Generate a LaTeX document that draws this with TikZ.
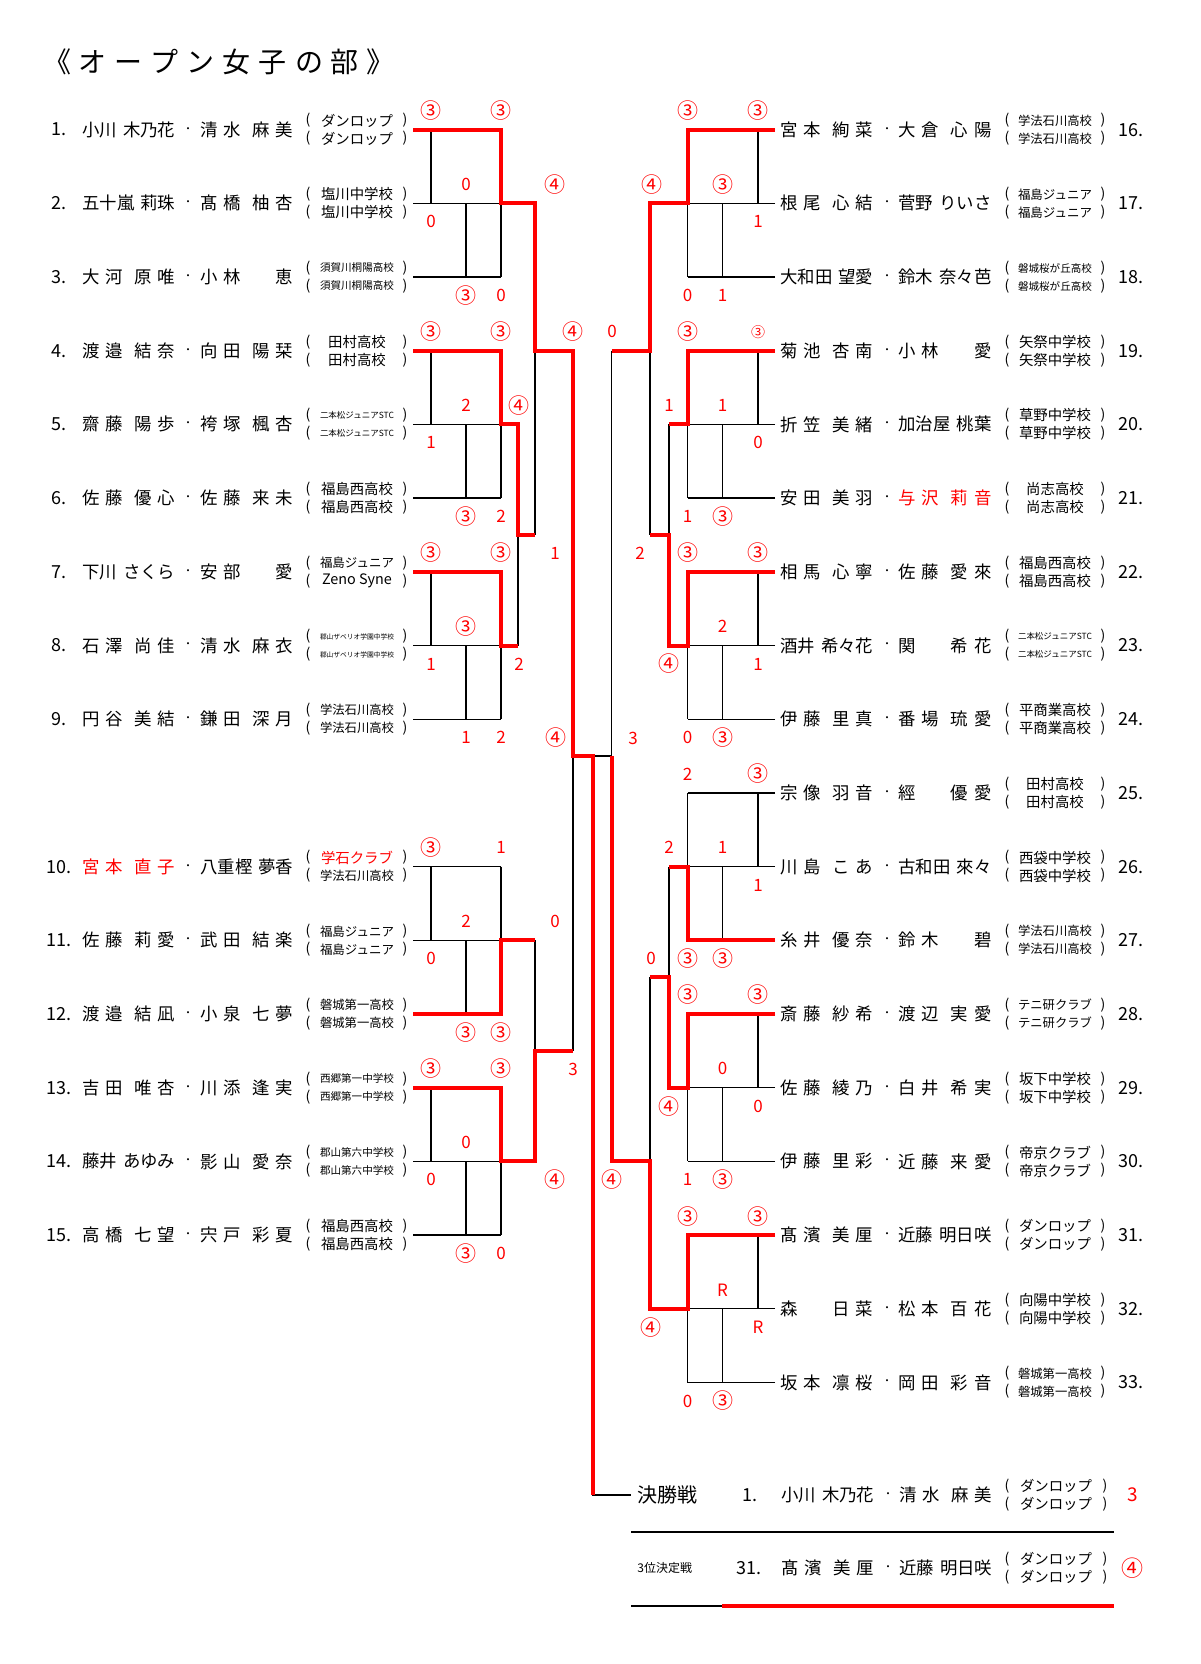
\documentclass[tikz,border=0pt]{standalone}
\usepackage{fontspec}
\usepackage{graphicx}
\setmainfont{Noto Sans CJK JP}
\definecolor{rd}{RGB}{255,0,0}
\newsavebox\afbox
\newcommand\fitw[1]{\sbox\afbox{#1}\ifdim\wd\afbox>37pt\resizebox{37pt}{!}{\usebox\afbox}\else\usebox\afbox\fi}
\newcommand\fld[1]{\makebox[46.5pt][s]{#1}}
\newcommand\four[4]{#1\hfill#2\hfill\hfill#3\hfill#4}
\newcommand\qq{\phantom{口}}
% rows
\def\yA{129.6}\def\yB{203.3}\def\yC{277.0}\def\yD{350.7}\def\yE{424.4}\def\yF{498.1}
\def\yG{571.8}\def\yH{645.5}\def\yI{719.2}\def\yJ{792.9}\def\yK{866.6}\def\yL{940.3}
\def\yM{1014.0}\def\yN{1087.7}\def\yO{1161.4}\def\yP{1235.1}\def\yQ{1308.8}\def\yR{1382.5}
% columns
\def\lxo{413}\def\lxa{431}\def\lxb{466}\def\lxc{501}\def\lxd{518}\def\lxe{535}\def\lxf{573}\def\lxg{593}
\def\rxo{775}\def\rxa{758}\def\rxb{722.5}\def\rxc{687.5}\def\rxd{669}\def\rxe{650}\def\rxg{611.5}
\tikzset{
  nm/.style={anchor=west,inner sep=0pt,font=\fontsize{8.7pt}{8.7pt}\selectfont},
  num/.style={anchor=west,inner sep=0pt,font=\fontsize{9pt}{9pt}\selectfont},
  dt/.style={inner sep=0pt,font=\fontsize{5pt}{5pt}\selectfont},
  af/.style={inner sep=0pt,font=\fontsize{7.2pt}{7.2pt}\selectfont},
  pr/.style={inner sep=0pt,font=\fontsize{7pt}{7pt}\selectfont},
  sc/.style={inner sep=0pt,text=rd,font=\fontsize{8.5pt}{8.5pt}\selectfont},
  cs/.style={inner sep=0pt,text=rd,font=\fontsize{10.5pt}{10.5pt}\selectfont},
  bl/.style={line width=0.65pt,black},
  rl/.style={line width=2pt,rd},
  ttl/.style={inner sep=0pt,font=\fontsize{14pt}{14pt}\selectfont},
}
\newcommand\lrow[8]{%
  \node[num] (ln#1) at (#3,#2) {#4};
  \node[nm] (la#1) at (82,#2) {\fld{#5}};
  \node[dt] (ld#1) at (188,#2) {・};
  \node[nm] (lb#1) at (200,#2) {\fld{#6}};
  \node[pr] (lp#1) at (308,{#2-9}) {(};
  \node[pr] (lq#1) at (308,{#2+9}) {(};
  \node[pr] (lr#1) at (405,{#2-9}) {)};
  \node[pr] (ls#1) at (405,{#2+9}) {)};
  \node[af] (lc#1) at (357,{#2-9}) {\fitw{#7}};
  \node[af] (le#1) at (357,{#2+9}) {\fitw{#8}};
}
\newcommand\rrow[7]{%
  \node[nm] (ra#1) at (780,#2) {\fld{#4}};
  \node[dt] (rd#1) at (887,#2) {・};
  \node[nm] (rb#1) at (898,#2) {\fld{#5}};
  \node[pr] (rp#1) at (1007,{#2-9}) {(};
  \node[pr] (rq#1) at (1007,{#2+9}) {(};
  \node[pr] (rr#1) at (1103,{#2-9}) {)};
  \node[pr] (rs#1) at (1103,{#2+9}) {)};
  \node[af] (rc#1) at (1055,{#2-9}) {\fitw{#6}};
  \node[af] (re#1) at (1055,{#2+9}) {\fitw{#7}};
  \node[num] (rn#1) at (1118,#2) {#3};
}
\newcommand\lgrp[3]{\draw[bl] (\lxo,#1)--(\lxc,#1) (\lxo,#2)--(\lxc,#2) (\lxo,#3)--(\lxc,#3)
  (\lxa,#1)--(\lxa,#2) (\lxb,#2)--(\lxb,#3) (\lxc,#1)--(\lxc,#3);}
\newcommand\rgrp[3]{\draw[bl] (\rxo,#1)--(\rxc,#1) (\rxo,#2)--(\rxc,#2) (\rxo,#3)--(\rxc,#3)
  (\rxa,#1)--(\rxa,#2) (\rxb,#2)--(\rxb,#3) (\rxc,#1)--(\rxc,#3);}
\newcommand\sco[3]{\node[sc] at (#1,#2) {#3};}
\newcommand\cir[3]{\node[cs] at (#1,#2) {#3};}
\begin{document}
\begin{tikzpicture}[x=0.5pt,y=-0.5pt]
\useasboundingbox (0,0) rectangle (1200,1664);
\fill[white] (0,0) rectangle (1200,1664);
\node[ttl] (title) at (219,62) {\makebox[176pt][s]{《\hfill オ\hfill ー\hfill プ\hfill ン\hfill 女\hfill 子\hfill の\hfill 部\hfill 》}};

% ---------- black bracket ----------
\lgrp{\yA}{\yB}{\yC}\lgrp{\yD}{\yE}{\yF}\lgrp{\yG}{\yH}{\yI}\lgrp{\yK}{\yL}{\yM}\lgrp{\yN}{\yO}{\yP}
\rgrp{\yA}{\yB}{\yC}\rgrp{\yD}{\yE}{\yF}\rgrp{\yG}{\yH}{\yI}\rgrp{\yJ}{\yK}{\yL}\rgrp{\yM}{\yN}{\yO}\rgrp{\yP}{\yQ}{\yR}
\draw[bl] (\lxc,\yB)--(\lxe,\yB) (\lxe,\yB)--(\lxe,535)
  (\lxc,\yE)--(\lxd,\yE) (\lxc,\yH)--(\lxd,\yH) (\lxd,\yE)--(\lxd,\yH) (\lxd,535)--(\lxe,535)
  (\lxe,\yD)--(\lxf,\yD) (\lxf,\yD)--(\lxf,1050.9)
  (\lxc,\yL)--(\lxe,\yL) (\lxc,\yO)--(\lxe,\yO) (\lxe,\yL)--(\lxe,\yO) (\lxe,1050.9)--(\lxf,1050.9)
  (\lxf,756)--(\rxg,756) (\rxg,\yD)--(\rxg,\yO) (\lxg,756)--(\lxg,1495)--(631,1495)
  (\rxc,\yB)--(\rxe,\yB) (\rxe,\yB)--(\rxe,535)
  (\rxc,\yE)--(\rxd,\yE) (\rxc,\yH)--(\rxd,\yH) (\rxd,\yE)--(\rxd,\yH) (\rxd,535)--(\rxe,535)
  (\rxe,\yD)--(\rxg,\yD)
  (\rxc,\yK)--(\rxd,\yK) (\rxc,\yN)--(\rxd,\yN) (\rxd,\yK)--(\rxd,\yN) (\rxd,977.2)--(\rxe,977.2)
  (\rxe,977.2)--(\rxe,\yQ) (\rxc,\yQ)--(\rxe,\yQ) (\rxe,\yO)--(\rxg,\yO)
  (631,1532)--(1114,1532) (631,1606)--(722,1606);

% ---------- red winner paths ----------
\draw[rl] (\lxo,\yA)--(\lxc,\yA)--(\lxc,\yB)--(\lxe,\yB)--(\lxe,\yD)--(\lxf,\yD)--(\lxf,756)--(\lxg,756)--(\lxg,1495);
\draw[rl] (\lxo,\yD)--(\lxc,\yD)--(\lxc,\yE)--(\lxd,\yE)--(\lxd,535)--(\lxe,535);
\draw[rl] (\lxo,\yG)--(\lxc,\yG)--(\lxc,\yH)--(\lxd,\yH);
\draw[rl] (\lxo,\yM)--(\lxc,\yM)--(\lxc,\yL)--(\lxe,\yL);
\draw[rl] (\lxo,\yN)--(\lxc,\yN)--(\lxc,\yO)--(\lxe,\yO)--(\lxe,1050.9)--(\lxf,1050.9);
\draw[rl] (\rxo,\yA)--(\rxc,\yA)--(\rxc,\yB)--(\rxe,\yB)--(\rxe,\yD)--(\rxg,\yD);
\draw[rl] (\rxo,\yD)--(\rxc,\yD)--(\rxc,\yE)--(\rxd,\yE);
\draw[rl] (\rxo,\yG)--(\rxc,\yG)--(\rxc,\yH)--(\rxd,\yH)--(\rxd,535)--(\rxe,535);
\draw[rl] (\rxo,\yL)--(\rxc,\yL)--(\rxc,\yK)--(\rxd,\yK);
\draw[rl] (\rxo,\yM)--(\rxc,\yM)--(\rxc,\yN)--(\rxd,\yN)--(\rxd,977.2)--(\rxe,977.2);
\draw[rl] (\rxo,\yP)--(\rxc,\yP)--(\rxc,\yQ)--(\rxe,\yQ)--(\rxe,\yO)--(\rxg,\yO)--(\rxg,756);
\draw[rl] (722,1606)--(1114,1606);

% ---------- scores left ----------
\cir{431}{110.6}{③}\cir{501}{110.6}{③}\sco{466}{184.3}{0}\sco{431}{221.8}{0}\cir{466}{295.5}{③}\sco{501}{295.5}{0}
\cir{555}{185}{④}
\cir{431}{331.7}{③}\cir{501}{331.7}{③}\sco{466}{405.4}{2}\cir{519}{405.4}{④}\sco{431}{442.9}{1}\cir{466}{516.6}{③}\sco{501}{516.6}{2}
\sco{555}{553}{1}
\cir{431}{552.8}{③}\cir{501}{552.8}{③}\cir{466}{626.5}{③}\sco{431}{664}{1}\sco{519}{664}{2}\sco{466}{737.7}{1}\sco{501}{737.7}{2}
\cir{573}{331.7}{④}\cir{556}{738}{④}\sco{633}{738}{3}
\cir{431}{847.6}{③}\sco{501}{847.6}{1}\sco{466}{921.3}{2}\sco{555}{921.3}{0}\sco{431}{958.8}{0}\cir{466}{1032.5}{③}\cir{501}{1032.5}{③}
\cir{431}{1068.7}{③}\cir{501}{1068.7}{③}\sco{573}{1069}{3}\sco{466}{1142.4}{0}\sco{431}{1179.9}{0}\cir{555}{1179.9}{④}\cir{466}{1253.6}{③}\sco{501}{1253.6}{0}
\sco{612}{331.7}{0}\cir{612}{1179.9}{④}
% ---------- scores right ----------
\cir{687.5}{110.6}{③}\cir{758}{110.6}{③}\cir{722.5}{184.3}{③}\cir{651.7}{184.3}{④}\sco{758}{221.8}{1}\sco{687.5}{295.5}{0}\sco{722.5}{295.5}{1}
\cir{687.5}{331.7}{③}\node[cs,font=\fontsize{7pt}{7pt}\selectfont] at (758,331.7) {③};
\sco{669}{405.4}{1}\sco{722.5}{405.4}{1}\sco{758}{442.9}{0}\sco{687.5}{516.6}{1}\cir{722.5}{516.6}{③}
\sco{640}{553}{2}
\cir{687.5}{552.8}{③}\cir{758}{552.8}{③}\sco{722.5}{626.5}{2}\cir{669}{664}{④}\sco{758}{664}{1}\sco{687.5}{737.7}{0}\cir{722.5}{737.7}{③}
\sco{687.5}{773.9}{2}\cir{758}{773.9}{③}\sco{669}{847.6}{2}\sco{722.5}{847.6}{1}\sco{758}{885.1}{1}\cir{687.5}{958.8}{③}\cir{722.5}{958.8}{③}\sco{651}{958.8}{0}
\cir{687.5}{995}{③}\cir{758}{995}{③}\sco{722.5}{1068.7}{0}\cir{669}{1106.2}{④}\sco{758}{1106.2}{0}\sco{687.5}{1179.9}{1}\cir{722.5}{1179.9}{③}
\cir{687.5}{1216.1}{③}\cir{758}{1216.1}{③}\sco{722.5}{1289.8}{R}\sco{758}{1327.3}{R}\cir{651}{1327.3}{④}\sco{687.5}{1401}{0}\cir{722.5}{1401}{③}

% ---------- left entries ----------
\lrow{1}{\yA}{51}{1.}{小川\hfill 木乃花}{\four{清}{水}{麻}{美}}{ダンロップ}{ダンロップ}
\lrow{2}{\yB}{51}{2.}{五十嵐\hfill 莉珠}{\four{髙}{橋}{柚}{杏}}{塩川中学校}{塩川中学校}
\lrow{3}{\yC}{51}{3.}{\four{大}{河}{原}{唯}}{\four{小}{林}{\qq}{恵}}{須賀川桐陽高校}{須賀川桐陽高校}
\lrow{4}{\yD}{51}{4.}{\four{渡}{邉}{結}{奈}}{\four{向}{田}{陽}{栞}}{田村高校}{田村高校}
\lrow{5}{\yE}{51}{5.}{\four{齋}{藤}{陽}{歩}}{\four{袴}{塚}{楓}{杏}}{二本松ジュニアSTC}{二本松ジュニアSTC}
\lrow{6}{\yF}{51}{6.}{\four{佐}{藤}{優}{心}}{\four{佐}{藤}{来}{未}}{福島西高校}{福島西高校}
\lrow{7}{\yG}{51}{7.}{下川\hfill さくら}{\four{安}{部}{\qq}{愛}}{福島ジュニア}{Zeno Syne}
\lrow{8}{\yH}{51}{8.}{\four{石}{澤}{尚}{佳}}{\four{清}{水}{麻}{衣}}{郡山ザベリオ学園中学校}{郡山ザベリオ学園中学校}
\lrow{9}{\yI}{51}{9.}{\four{円}{谷}{美}{結}}{\four{鎌}{田}{深}{月}}{学法石川高校}{学法石川高校}
\lrow{10}{\yK}{46}{10.}{\color{rd}\four{宮}{本}{直}{子}}{八重樫\hfill 夢香}{\color{rd}学石クラブ}{学法石川高校}
\lrow{11}{\yL}{46}{11.}{\four{佐}{藤}{莉}{愛}}{\four{武}{田}{結}{楽}}{福島ジュニア}{福島ジュニア}
\lrow{12}{\yM}{46}{12.}{\four{渡}{邉}{結}{凪}}{\four{小}{泉}{七}{夢}}{磐城第一高校}{磐城第一高校}
\lrow{13}{\yN}{46}{13.}{\four{吉}{田}{唯}{杏}}{\four{川}{添}{逢}{実}}{西郷第一中学校}{西郷第一中学校}
\lrow{14}{\yO}{46}{14.}{藤井\hfill あゆみ}{\four{影}{山}{愛}{奈}}{郡山第六中学校}{郡山第六中学校}
\lrow{15}{\yP}{46}{15.}{\four{高}{橋}{七}{望}}{\four{宍}{戸}{彩}{夏}}{福島西高校}{福島西高校}

% ---------- right entries ----------
\rrow{16}{\yA}{16.}{\four{宮}{本}{絢}{菜}}{\four{大}{倉}{心}{陽}}{学法石川高校}{学法石川高校}
\rrow{17}{\yB}{17.}{\four{根}{尾}{心}{結}}{菅野\hfill りいさ}{福島ジュニア}{福島ジュニア}
\rrow{18}{\yC}{18.}{大和田\hfill 望愛}{鈴木\hfill 奈々芭}{磐城桜が丘高校}{磐城桜が丘高校}
\rrow{19}{\yD}{19.}{\four{菊}{池}{杏}{南}}{\four{小}{林}{\qq}{愛}}{矢祭中学校}{矢祭中学校}
\rrow{20}{\yE}{20.}{\four{折}{笠}{美}{緒}}{加治屋\hfill 桃葉}{草野中学校}{草野中学校}
\rrow{21}{\yF}{21.}{\four{安}{田}{美}{羽}}{\color{rd}\four{与}{沢}{莉}{音}}{尚志高校}{尚志高校}
\rrow{22}{\yG}{22.}{\four{相}{馬}{心}{寧}}{\four{佐}{藤}{愛}{來}}{福島西高校}{福島西高校}
\rrow{23}{\yH}{23.}{酒井\hfill 希々花}{\four{関}{\qq}{希}{花}}{二本松ジュニアSTC}{二本松ジュニアSTC}
\rrow{24}{\yI}{24.}{\four{伊}{藤}{里}{真}}{\four{番}{場}{琉}{愛}}{平商業高校}{平商業高校}
\rrow{25}{\yJ}{25.}{\four{宗}{像}{羽}{音}}{\four{經}{\qq}{優}{愛}}{田村高校}{田村高校}
\rrow{26}{\yK}{26.}{\four{川}{島}{こ}{あ}}{古和田\hfill 來々}{西袋中学校}{西袋中学校}
\rrow{27}{\yL}{27.}{\four{糸}{井}{優}{奈}}{\four{鈴}{木}{\qq}{碧}}{学法石川高校}{学法石川高校}
\rrow{28}{\yM}{28.}{\four{斎}{藤}{紗}{希}}{\four{渡}{辺}{実}{愛}}{テニ研クラブ}{テニ研クラブ}
\rrow{29}{\yN}{29.}{\four{佐}{藤}{綾}{乃}}{\four{白}{井}{希}{実}}{坂下中学校}{坂下中学校}
\rrow{30}{\yO}{30.}{\four{伊}{藤}{里}{彩}}{\four{近}{藤}{来}{愛}}{帝京クラブ}{帝京クラブ}
\rrow{31}{\yP}{31.}{\four{髙}{濱}{美}{厘}}{近藤\hfill 明日咲}{ダンロップ}{ダンロップ}
\rrow{32}{\yQ}{32.}{\four{森}{\qq}{日}{菜}}{\four{松}{本}{百}{花}}{向陽中学校}{向陽中学校}
\rrow{33}{\yR}{33.}{\four{坂}{本}{凛}{桜}}{\four{岡}{田}{彩}{音}}{磐城第一高校}{磐城第一高校}

% ---------- final / third place ----------
\node[nm,font=\fontsize{10pt}{10pt}\selectfont] (fin) at (637,1495) {決勝戦};
\node[num] (fn) at (742,1495) {1.};
\node[nm] (fa) at (781,1495) {\fld{小川\hfill 木乃花}};
\node[dt] (fd) at (888,1495) {・};
\node[nm] (fb) at (899,1495) {\fld{\four{清}{水}{麻}{美}}};
\node[pr] at (1007,1486) {(};\node[pr] at (1007,1504) {(};
\node[pr] at (1105,1486) {)};\node[pr] at (1105,1504) {)};
\node[af] (fc) at (1056,1486) {ダンロップ};\node[af] (fe) at (1056,1504) {ダンロップ};
\node[sc,font=\fontsize{9.5pt}{9.5pt}\selectfont] (fs) at (1132.5,1495) {3};

\node[nm,font=\fontsize{6pt}{6pt}\selectfont] (thr) at (637,1568) {3位決定戦};
\node[num] (tn) at (736,1568) {31.};
\node[nm] (ta) at (781,1568) {\fld{\four{髙}{濱}{美}{厘}}};
\node[dt] (td) at (888,1568) {・};
\node[nm] (tb) at (899,1568) {\fld{近藤\hfill 明日咲}};
\node[pr] at (1007,1559) {(};\node[pr] at (1007,1577) {(};
\node[pr] at (1105,1559) {)};\node[pr] at (1105,1577) {)};
\node[af] (tc) at (1056,1559) {ダンロップ};\node[af] (te) at (1056,1577) {ダンロップ};
\node[cs,font=\fontsize{11pt}{11pt}\selectfont] (ts) at (1132,1568) {④};
\end{tikzpicture}
\end{document}
